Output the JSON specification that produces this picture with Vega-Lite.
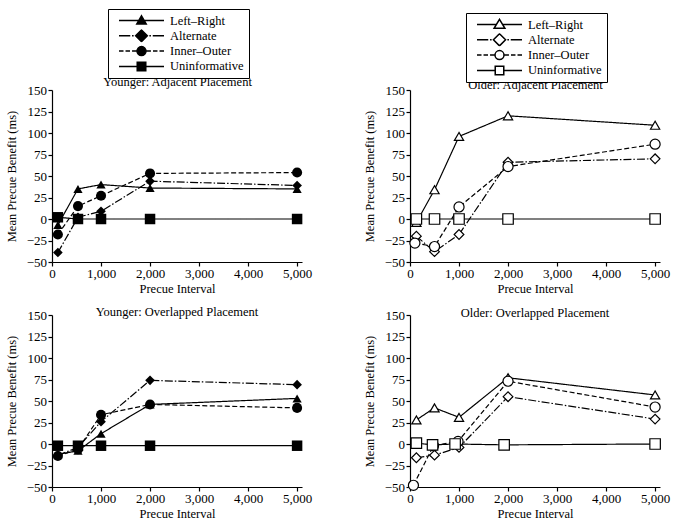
{
  "$schema": "https://vega.github.io/schema/vega-lite/v6.json",
  "padding": {"left": 5, "top": 8, "right": 3, "bottom": 5},
  "autosize": {"type": "pad"},
  "columns": 2,
  "bounds": "flush",
  "spacing": {"row": 53, "column": 108},
  "config": {
    "font": "Liberation Serif",
    "view": {"stroke": null},
    "axis": {
      "domainColor": "black", "tickColor": "black", "labelColor": "black", "titleColor": "black",
      "labelFont": "Liberation Serif", "titleFont": "Liberation Serif",
      "labelFontSize": 13, "titleFontSize": 12.5, "titleFontWeight": "normal",
      "grid": false, "tickSize": 4, "domainWidth": 1.2, "tickWidth": 1.2,
      "labelPadding": 1.5, "labelFlush": false, "labelOverlap": false
    },
    "axisY": {"titlePadding": 8},
    "axisX": {"titlePadding": 2, "labelPadding": 1},
    "title": {"font": "Liberation Serif", "fontSize": 12.5, "fontWeight": "normal", "color": "black", "anchor": "middle", "frame": "group"},
    "legend": {
      "orient": "none", "title": null, "strokeColor": "black", "fillColor": "white",
      "padding": 5, "symbolSize": 2025, "labelFont": "Liberation Serif", "labelFontSize": 12.5,
      "labelColor": "black", "labelOffset": 5, "symbolOffset": 5, "rowPadding": 2.3, "clipHeight": 13
    }
  },
  "datasets": {
    "d": [
      {"panel": "YA", "series": "Left–Right", "interval": 120, "benefit": -7},
      {"panel": "YA", "series": "Left–Right", "interval": 530, "benefit": 35},
      {"panel": "YA", "series": "Left–Right", "interval": 1000, "benefit": 40},
      {"panel": "YA", "series": "Left–Right", "interval": 2000, "benefit": 36},
      {"panel": "YA", "series": "Left–Right", "interval": 5000, "benefit": 35},
      {"panel": "YA", "series": "Alternate", "interval": 120, "benefit": -39},
      {"panel": "YA", "series": "Alternate", "interval": 530, "benefit": 2},
      {"panel": "YA", "series": "Alternate", "interval": 1000, "benefit": 9},
      {"panel": "YA", "series": "Alternate", "interval": 2000, "benefit": 44},
      {"panel": "YA", "series": "Alternate", "interval": 5000, "benefit": 39},
      {"panel": "YA", "series": "Inner–Outer", "interval": 120, "benefit": -18},
      {"panel": "YA", "series": "Inner–Outer", "interval": 530, "benefit": 15},
      {"panel": "YA", "series": "Inner–Outer", "interval": 1000, "benefit": 27},
      {"panel": "YA", "series": "Inner–Outer", "interval": 2000, "benefit": 53},
      {"panel": "YA", "series": "Inner–Outer", "interval": 5000, "benefit": 54},
      {"panel": "YA", "series": "Uninformative", "interval": 120, "benefit": 2},
      {"panel": "YA", "series": "Uninformative", "interval": 530, "benefit": 0},
      {"panel": "YA", "series": "Uninformative", "interval": 1000, "benefit": 0},
      {"panel": "YA", "series": "Uninformative", "interval": 2000, "benefit": 0},
      {"panel": "YA", "series": "Uninformative", "interval": 5000, "benefit": 0},

      {"panel": "OA", "series": "Left–Right", "interval": 130, "benefit": -4},
      {"panel": "OA", "series": "Left–Right", "interval": 500, "benefit": 34},
      {"panel": "OA", "series": "Left–Right", "interval": 1000, "benefit": 96},
      {"panel": "OA", "series": "Left–Right", "interval": 2000, "benefit": 120},
      {"panel": "OA", "series": "Left–Right", "interval": 5000, "benefit": 109},
      {"panel": "OA", "series": "Alternate", "interval": 130, "benefit": -20},
      {"panel": "OA", "series": "Alternate", "interval": 500, "benefit": -38},
      {"panel": "OA", "series": "Alternate", "interval": 1000, "benefit": -18},
      {"panel": "OA", "series": "Alternate", "interval": 2000, "benefit": 66},
      {"panel": "OA", "series": "Alternate", "interval": 5000, "benefit": 70},
      {"panel": "OA", "series": "Inner–Outer", "interval": 100, "benefit": -28},
      {"panel": "OA", "series": "Inner–Outer", "interval": 500, "benefit": -32},
      {"panel": "OA", "series": "Inner–Outer", "interval": 1000, "benefit": 14},
      {"panel": "OA", "series": "Inner–Outer", "interval": 2000, "benefit": 61},
      {"panel": "OA", "series": "Inner–Outer", "interval": 5000, "benefit": 87},
      {"panel": "OA", "series": "Uninformative", "interval": 130, "benefit": 0},
      {"panel": "OA", "series": "Uninformative", "interval": 500, "benefit": 0},
      {"panel": "OA", "series": "Uninformative", "interval": 1000, "benefit": 0},
      {"panel": "OA", "series": "Uninformative", "interval": 2000, "benefit": 0},
      {"panel": "OA", "series": "Uninformative", "interval": 5000, "benefit": 0},

      {"panel": "YO", "series": "Left–Right", "interval": 120, "benefit": -12},
      {"panel": "YO", "series": "Left–Right", "interval": 530, "benefit": -8},
      {"panel": "YO", "series": "Left–Right", "interval": 1000, "benefit": 12},
      {"panel": "YO", "series": "Left–Right", "interval": 2000, "benefit": 46},
      {"panel": "YO", "series": "Left–Right", "interval": 5000, "benefit": 53},
      {"panel": "YO", "series": "Alternate", "interval": 120, "benefit": -13},
      {"panel": "YO", "series": "Alternate", "interval": 530, "benefit": -4},
      {"panel": "YO", "series": "Alternate", "interval": 1000, "benefit": 26},
      {"panel": "YO", "series": "Alternate", "interval": 2000, "benefit": 74},
      {"panel": "YO", "series": "Alternate", "interval": 5000, "benefit": 69},
      {"panel": "YO", "series": "Inner–Outer", "interval": 120, "benefit": -14},
      {"panel": "YO", "series": "Inner–Outer", "interval": 530, "benefit": -6},
      {"panel": "YO", "series": "Inner–Outer", "interval": 1000, "benefit": 34},
      {"panel": "YO", "series": "Inner–Outer", "interval": 2000, "benefit": 46},
      {"panel": "YO", "series": "Inner–Outer", "interval": 5000, "benefit": 42},
      {"panel": "YO", "series": "Uninformative", "interval": 120, "benefit": -2},
      {"panel": "YO", "series": "Uninformative", "interval": 530, "benefit": -2},
      {"panel": "YO", "series": "Uninformative", "interval": 1000, "benefit": -2},
      {"panel": "YO", "series": "Uninformative", "interval": 2000, "benefit": -2},
      {"panel": "YO", "series": "Uninformative", "interval": 5000, "benefit": -2},

      {"panel": "OO", "series": "Left–Right", "interval": 130, "benefit": 28},
      {"panel": "OO", "series": "Left–Right", "interval": 500, "benefit": 42},
      {"panel": "OO", "series": "Left–Right", "interval": 1000, "benefit": 31},
      {"panel": "OO", "series": "Left–Right", "interval": 2000, "benefit": 77},
      {"panel": "OO", "series": "Left–Right", "interval": 5000, "benefit": 57},
      {"panel": "OO", "series": "Alternate", "interval": 130, "benefit": -16},
      {"panel": "OO", "series": "Alternate", "interval": 500, "benefit": -13},
      {"panel": "OO", "series": "Alternate", "interval": 1000, "benefit": -4},
      {"panel": "OO", "series": "Alternate", "interval": 2000, "benefit": 55},
      {"panel": "OO", "series": "Alternate", "interval": 5000, "benefit": 29},
      {"panel": "OO", "series": "Inner–Outer", "interval": 70, "benefit": -48},
      {"panel": "OO", "series": "Inner–Outer", "interval": 480, "benefit": -2},
      {"panel": "OO", "series": "Inner–Outer", "interval": 980, "benefit": 3},
      {"panel": "OO", "series": "Inner–Outer", "interval": 2000, "benefit": 73},
      {"panel": "OO", "series": "Inner–Outer", "interval": 5000, "benefit": 43},
      {"panel": "OO", "series": "Uninformative", "interval": 130, "benefit": 1},
      {"panel": "OO", "series": "Uninformative", "interval": 460, "benefit": -1},
      {"panel": "OO", "series": "Uninformative", "interval": 920, "benefit": 0},
      {"panel": "OO", "series": "Uninformative", "interval": 1920, "benefit": -1},
      {"panel": "OO", "series": "Uninformative", "interval": 5000, "benefit": 0}
    ]
  },
  "data": {"name": "d"},
  "concat": [
    {
      "width": 250, "height": 172,
      "transform": [{"filter": "datum.panel === 'YA'"}],
      "encoding": {
        "x": {"field": "interval", "type": "quantitative", "scale": {"domain": [0, 5100], "nice": false, "zero": false},
              "axis": {"orient": "bottom", "values": [0, 1000, 2000, 3000, 4000, 5000], "format": ",d", "title": "Precue Interval"}},
        "y": {"field": "benefit", "type": "quantitative", "scale": {"domain": [-50, 150], "nice": false},
              "axis": {"values": [-50, -25, 0, 25, 50, 75, 100, 125, 150], "title": "Mean Precue Benefit (ms)"}}
      },
      "layer": [
        {"mark": {"type": "line", "color": "black", "strokeWidth": 1.2},
         "encoding": {"detail": {"field": "series"},
           "strokeDash": {"field": "series", "type": "nominal", "legend": null,
             "scale": {"domain": ["Left–Right", "Alternate", "Inner–Outer", "Uninformative"], "range": [[1, 0], [8, 2, 1.5, 2], [5, 2.5], [1, 0]]}}}},
        {"mark": {"type": "point", "filled": true, "fill": "black", "opacity": 1},
         "encoding": {
           "x": {"field": "interval", "type": "quantitative", "scale": {"domain": [0, 5100], "nice": false, "zero": false}, "axis": null},
           "shape": {"field": "series", "type": "nominal", "legend": null,
             "scale": {"domain": ["Left–Right", "Alternate", "Inner–Outer", "Uninformative"], "range": ["triangle-up", "diamond", "circle", "square"]}},
           "size": {"field": "series", "type": "ordinal", "legend": null,
             "scale": {"domain": ["Left–Right", "Alternate", "Inner–Outer", "Uninformative"], "range": [85, 110, 72, 64]}}}},
        {"data": {"values": []},
         "mark": {"type": "point", "filled": true, "fill": "black", "stroke": "black", "strokeWidth": 1.1, "opacity": 1},
         "encoding": {
           "x": {"field": "interval", "type": "quantitative", "scale": {"domain": [0, 5100], "nice": false, "zero": false},
                 "axis": {"orient": "top", "title": "Younger: Adjacent Placement", "domain": false, "ticks": false, "labels": false, "titlePadding": 2}},
           "shape": {"field": "series", "type": "nominal",
             "scale": {"domain": ["Left–Right", "Alternate", "Inner–Outer", "Uninformative"],
               "range": [
                 "M-1,0H1M0,-0.21L0.21,0.16L-0.21,0.16Z",
                 "M-1,0H-0.5M-0.42,0H-0.35M0.35,0H0.42M0.5,0H1M0,-0.26L0.26,0L0,0.26L-0.26,0Z",
                 "M-1,0H-0.8M-0.71,0H-0.51M-0.42,0H-0.22M0.22,0H0.42M0.51,0H0.71M0.8,0H1M0.2,0A0.2,0.2,0,1,1,-0.2,0A0.2,0.2,0,1,1,0.2,0Z",
                 "M-1,0H1M-0.19,-0.19H0.19V0.19H-0.19Z"]},
             "legend": {"legendX": 56, "legendY": -81,
               "encode": {"symbols": {"update": {"fill": {"value": "black"}, "stroke": {"value": "black"}, "strokeWidth": {"value": 1.1}, "opacity": {"value": 1}}}}}}}}
      ],
      "resolve": {"scale": {"shape": "independent"}, "legend": {"shape": "independent"}, "axis": {"x": "independent"}}
    },
    {
      "width": 250, "height": 172,
      "transform": [{"filter": "datum.panel === 'OA'"}],
      "encoding": {
        "x": {"field": "interval", "type": "quantitative", "scale": {"domain": [0, 5100], "nice": false, "zero": false},
              "axis": {"orient": "bottom", "values": [0, 1000, 2000, 3000, 4000, 5000], "format": ",d", "title": "Precue Interval"}},
        "y": {"field": "benefit", "type": "quantitative", "scale": {"domain": [-50, 150], "nice": false},
              "axis": {"values": [-50, -25, 0, 25, 50, 75, 100, 125, 150], "title": "Mean Precue Benefit (ms)"}}
      },
      "layer": [
        {"mark": {"type": "line", "color": "black", "strokeWidth": 1.2},
         "encoding": {"detail": {"field": "series"},
           "strokeDash": {"field": "series", "type": "nominal", "legend": null,
             "scale": {"domain": ["Left–Right", "Alternate", "Inner–Outer", "Uninformative"], "range": [[1, 0], [8, 2, 1.5, 2], [5, 2.5], [1, 0]]}}}},
        {"mark": {"type": "point", "filled": true, "fill": "white", "stroke": "black", "strokeWidth": 1.2, "opacity": 1},
         "encoding": {
           "x": {"field": "interval", "type": "quantitative", "scale": {"domain": [0, 5100], "nice": false, "zero": false}, "axis": null},
           "shape": {"field": "series", "type": "nominal", "legend": null,
             "scale": {"domain": ["Left–Right", "Alternate", "Inner–Outer", "Uninformative"], "range": ["triangle-up", "diamond", "circle", "square"]}},
           "size": {"field": "series", "type": "ordinal", "legend": null,
             "scale": {"domain": ["Left–Right", "Alternate", "Inner–Outer", "Uninformative"], "range": [95, 120, 80, 70]}}}},
        {"data": {"values": []},
         "mark": {"type": "point", "filled": true, "fill": "white", "stroke": "black", "strokeWidth": 1.1, "opacity": 1},
         "encoding": {
           "x": {"field": "interval", "type": "quantitative", "scale": {"domain": [0, 5100], "nice": false, "zero": false},
                 "axis": {"orient": "top", "title": "Older: Adjacent Placement", "domain": false, "ticks": false, "labels": false, "titlePadding": -1}},
           "shape": {"field": "series", "type": "nominal",
             "scale": {"domain": ["Left–Right", "Alternate", "Inner–Outer", "Uninformative"],
               "range": [
                 "M-1,0H-0.14M0.14,0H1M0,-0.23L0.24,0.17L-0.24,0.17Z",
                 "M-1,0H-0.5M-0.42,0H-0.35M0.35,0H0.42M0.5,0H1M0,-0.27L0.27,0L0,0.27L-0.27,0Z",
                 "M-1,0H-0.8M-0.71,0H-0.51M-0.42,0H-0.22M0.22,0H0.42M0.51,0H0.71M0.8,0H1M0.2,0A0.2,0.2,0,1,1,-0.2,0A0.2,0.2,0,1,1,0.2,0Z",
                 "M-1,0H-0.19M0.19,0H1M-0.19,-0.19H0.19V0.19H-0.19Z"]},
             "legend": {"legendX": 56, "legendY": -77,
               "encode": {"symbols": {"update": {"fill": {"value": "white"}, "stroke": {"value": "black"}, "strokeWidth": {"value": 1.1}, "opacity": {"value": 1}}}}}}}}
      ],
      "resolve": {"scale": {"shape": "independent"}, "legend": {"shape": "independent"}, "axis": {"x": "independent"}}
    },
    {
      "width": 250, "height": 172,
      "title": {"text": "Younger: Overlapped Placement", "offset": -9},
      "transform": [{"filter": "datum.panel === 'YO'"}],
      "encoding": {
        "x": {"field": "interval", "type": "quantitative", "scale": {"domain": [0, 5100], "nice": false, "zero": false},
              "axis": {"values": [0, 1000, 2000, 3000, 4000, 5000], "format": ",d", "title": "Precue Interval"}},
        "y": {"field": "benefit", "type": "quantitative", "scale": {"domain": [-50, 150], "nice": false},
              "axis": {"values": [-50, -25, 0, 25, 50, 75, 100, 125, 150], "title": "Mean Precue Benefit (ms)"}}
      },
      "layer": [
        {"mark": {"type": "line", "color": "black", "strokeWidth": 1.2},
         "encoding": {"detail": {"field": "series"},
           "strokeDash": {"field": "series", "type": "nominal", "legend": null,
             "scale": {"domain": ["Left–Right", "Alternate", "Inner–Outer", "Uninformative"], "range": [[1, 0], [8, 2, 1.5, 2], [5, 2.5], [1, 0]]}}}},
        {"mark": {"type": "point", "filled": true, "fill": "black", "opacity": 1},
         "encoding": {
           "shape": {"field": "series", "type": "nominal", "legend": null,
             "scale": {"domain": ["Left–Right", "Alternate", "Inner–Outer", "Uninformative"], "range": ["triangle-up", "diamond", "circle", "square"]}},
           "size": {"field": "series", "type": "ordinal", "legend": null,
             "scale": {"domain": ["Left–Right", "Alternate", "Inner–Outer", "Uninformative"], "range": [85, 110, 72, 64]}}}}
      ]
    },
    {
      "width": 250, "height": 172,
      "title": {"text": "Older: Overlapped Placement", "offset": -10},
      "transform": [{"filter": "datum.panel === 'OO'"}],
      "encoding": {
        "x": {"field": "interval", "type": "quantitative", "scale": {"domain": [0, 5100], "nice": false, "zero": false},
              "axis": {"values": [0, 1000, 2000, 3000, 4000, 5000], "format": ",d", "title": "Precue Interval"}},
        "y": {"field": "benefit", "type": "quantitative", "scale": {"domain": [-50, 150], "nice": false},
              "axis": {"values": [-50, -25, 0, 25, 50, 75, 100, 125, 150], "title": "Mean Precue Benefit (ms)"}}
      },
      "layer": [
        {"mark": {"type": "line", "color": "black", "strokeWidth": 1.2},
         "encoding": {"detail": {"field": "series"},
           "strokeDash": {"field": "series", "type": "nominal", "legend": null,
             "scale": {"domain": ["Left–Right", "Alternate", "Inner–Outer", "Uninformative"], "range": [[1, 0], [8, 2, 1.5, 2], [5, 2.5], [1, 0]]}}}},
        {"mark": {"type": "point", "filled": true, "fill": "white", "stroke": "black", "strokeWidth": 1.2, "opacity": 1},
         "encoding": {
           "shape": {"field": "series", "type": "nominal", "legend": null,
             "scale": {"domain": ["Left–Right", "Alternate", "Inner–Outer", "Uninformative"], "range": ["triangle-up", "diamond", "circle", "square"]}},
           "size": {"field": "series", "type": "ordinal", "legend": null,
             "scale": {"domain": ["Left–Right", "Alternate", "Inner–Outer", "Uninformative"], "range": [95, 120, 80, 70]}}}}
      ]
    }
  ]
}
